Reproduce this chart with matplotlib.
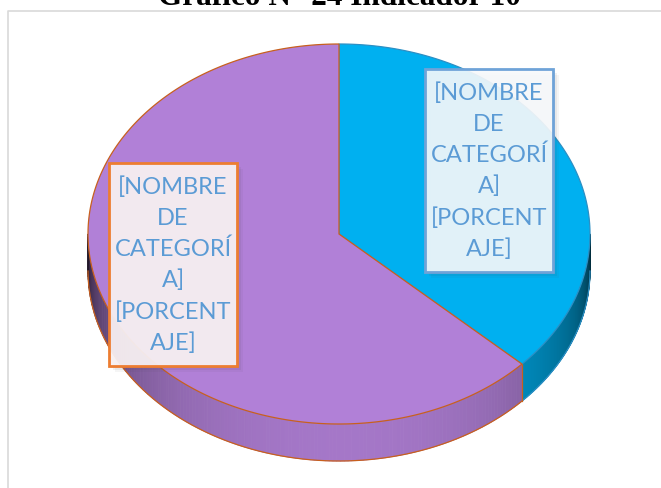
import matplotlib
matplotlib.use("Agg")
import numpy as np
import matplotlib.pyplot as plt
from matplotlib.patches import Polygon, Rectangle
from matplotlib.collections import PolyCollection
from matplotlib.colors import to_rgb

TITLE = "Gráfico N° 24 Indicador 10"
CATEGORIES = ["Categoría A", "Categoría B"]
VALUES = [37, 63]
COLORS = ["#00B0F0", "#B180D7"]
EDGE_COLORS = ["#2C8FC4", "#C8601E"]
LABELS = ["[NOMBRE\nDE\nCATEGORÍ\nA]\n[PORCENT\nAJE]"] * 2
BOX_EDGES = ["#6FA3D8", "#ED7D31"]
BOX_FACES = ["#F9FBFD", "#F8F1F3"]
BOX_ALPHA = [0.9, 0.94]

# layout (pixels)
W, H = 661, 488
CX, CY, RX, RY, DEPTH = 339, 234, 251, 190, 37
BOX_CENTERS = [(489, 170.5), (173, 264.5)]
BOX_W, BOX_H = 128, 203


def rim(theta):
    t = np.radians(theta)
    return CX + RX * np.sin(t), CY - RY * np.cos(t)


def shade(theta):
    u = np.clip(-np.cos(np.radians(theta)), 0, 1)
    return 0.15 + 0.78 * u ** 0.6


fig = plt.figure(figsize=(W / 100, H / 100), dpi=100)
ax = fig.add_axes([0, 0, 1, 1])
ax.set_xlim(0, W)
ax.set_ylim(H, 0)
ax.axis("off")

# chart frame
ax.plot([8, 8, W + 5], [H + 5, 10.5, 10.5], color="#D9D9D9", lw=1.2, zorder=1)

fig.text(340 / W, 1 - 5 / H, TITLE, ha="center", va="baseline",
         family="Liberation Serif", weight="bold", fontsize=22.5)

bounds = np.concatenate([[0], np.cumsum(VALUES)]) / sum(VALUES) * 360

# side walls (visible front half only)
for i in range(len(VALUES)):
    a0, a1 = max(bounds[i], 90), min(bounds[i + 1], 270)
    if a1 <= a0:
        continue
    th = np.linspace(a0, a1, 160)
    xs, ys = rim(th)
    quads, cols = [], []
    base = np.array(to_rgb(COLORS[i]))
    for k in range(len(th) - 1):
        quads.append([(xs[k], ys[k]), (xs[k + 1], ys[k + 1]),
                      (xs[k + 1], ys[k + 1] + DEPTH), (xs[k], ys[k] + DEPTH)])
        cols.append(base * shade(0.5 * (th[k] + th[k + 1])))
    ax.add_collection(PolyCollection(quads, facecolors=cols, edgecolors=cols,
                                     lw=0.6, zorder=2))
    ax.plot(xs, ys + DEPTH, color=EDGE_COLORS[i], lw=0.9, zorder=3)
    if 90 < bounds[i + 1] < 270:
        xe, ye = rim(bounds[i + 1])
        ax.plot([xe, xe], [ye, ye + DEPTH], color=EDGE_COLORS[1], lw=0.9, zorder=3)

# top faces
for i in range(len(VALUES)):
    th = np.linspace(bounds[i], bounds[i + 1], 300)
    xs, ys = rim(th)
    pts = np.column_stack([np.r_[CX, xs], np.r_[CY, ys]])
    ax.add_patch(Polygon(pts, closed=True, facecolor=COLORS[i],
                         edgecolor=EDGE_COLORS[i], lw=0.9, zorder=4 + i))

# data labels
for (bx, by), txt, ec, fc, al in zip(BOX_CENTERS, LABELS, BOX_EDGES,
                                     BOX_FACES, BOX_ALPHA):
    x0, y0 = bx - BOX_W / 2, by - BOX_H / 2
    for off, sa in [(6, 0.05), (4, 0.07), (2, 0.09)]:
        ax.add_patch(Rectangle((x0 + off, y0 + off), BOX_W, BOX_H,
                               facecolor="#404040", edgecolor="none",
                               alpha=sa, zorder=7))
    ax.add_patch(Rectangle((x0, y0), BOX_W, BOX_H, facecolor=fc, alpha=al,
                           edgecolor="none", zorder=8))
    ax.add_patch(Rectangle((x0, y0), BOX_W, BOX_H, facecolor="none",
                           edgecolor=ec, lw=2.0, zorder=9))
    ax.text(bx, by + 1, txt, ha="center", va="center", color="#5B9BD5",
            family="Lato", fontsize=17, linespacing=1.56, zorder=10)

fig.savefig("out.png", dpi=100)
